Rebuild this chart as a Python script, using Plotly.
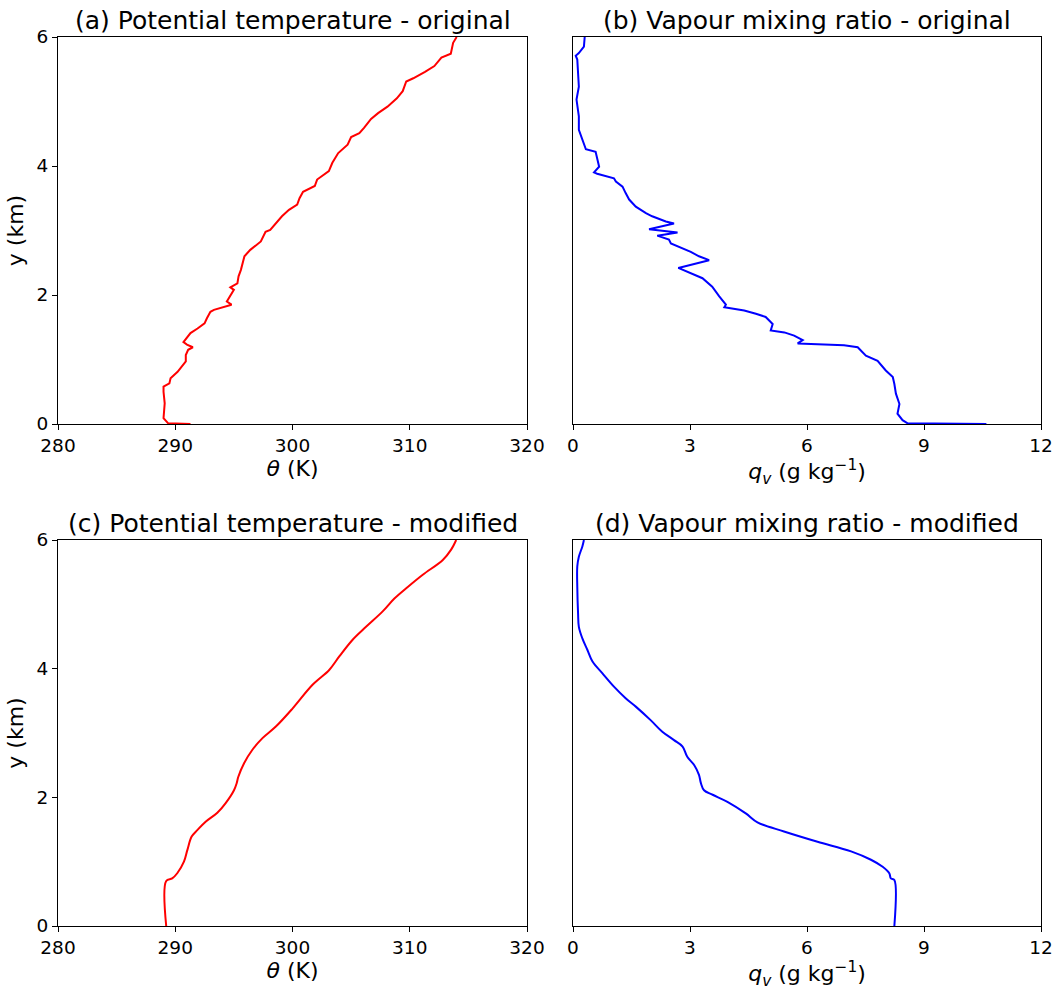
import plotly.graph_objects as go

# (a) potential temperature - original
z_a = [0.0, 0.01, 0.09, 0.32, 0.50, 0.58, 0.63, 0.71, 0.81, 0.97, 1.07, 1.15, 1.19, 1.23, 1.27,
       1.41, 1.48, 1.56, 1.64, 1.74, 1.77, 1.85, 1.90, 1.98, 2.08, 2.12, 2.18, 2.29, 2.39, 2.60,
       2.70, 2.83, 2.98, 3.01, 3.11, 3.22, 3.32, 3.40, 3.50, 3.60, 3.69, 3.79, 3.92, 4.05, 4.20,
       4.33, 4.45, 4.51, 4.59, 4.73, 4.82, 4.92, 5.05, 5.16, 5.31, 5.36, 5.46, 5.55, 5.68, 5.74,
       5.91, 6.0]
theta_a = [291.3, 289.4, 289.0, 289.1, 289.0, 289.0, 289.5, 289.6, 290.2, 290.9, 290.9, 291.1,
           291.5, 291.0, 290.7, 291.3, 291.9, 292.5, 292.7, 293.0, 293.3, 294.8, 294.4, 294.7,
           295.0, 294.7, 295.3, 295.4, 295.6, 295.9, 296.4, 297.3, 297.7, 298.1, 298.6, 299.1,
           299.7, 300.4, 300.6, 300.9, 301.9, 302.1, 303.1, 303.4, 303.9, 304.7, 305.0, 305.7,
           306.1, 306.7, 307.3, 308.1, 308.9, 309.4, 309.7, 310.3, 311.3, 312.1, 312.7, 313.5,
           313.7, 314.0]

# (b) vapour mixing ratio - original
z_b = [0.0, 0.01, 0.06, 0.16, 0.31, 0.47, 0.62, 0.73, 0.83, 0.98, 1.06, 1.19, 1.22, 1.25, 1.30,
       1.37, 1.42, 1.45, 1.55, 1.66, 1.71, 1.76, 1.81, 1.85, 1.98, 2.13, 2.26, 2.34, 2.42, 2.54,
       2.60, 2.67, 2.73, 2.80, 2.86, 2.92, 2.97, 3.02, 3.11, 3.14, 3.22, 3.27, 3.37, 3.48, 3.58,
       3.68, 3.76, 3.81, 3.88, 3.90, 3.99, 4.12, 4.22, 4.26, 4.40, 4.56, 4.77, 5.03, 5.23, 5.44,
       5.65, 5.71, 5.75, 5.85, 6.0]
qv_b = [10.6, 8.58, 8.45, 8.32, 8.37, 8.28, 8.24, 8.20, 8.02, 7.81, 7.51, 7.30, 6.95, 5.76, 5.89,
        5.67, 5.42, 5.07, 5.12, 4.94, 4.69, 4.39, 3.88, 3.92, 3.75, 3.57, 3.32, 3.02, 2.70, 3.49,
        3.23, 3.02, 2.76, 2.51, 2.46, 2.16, 2.68, 1.95, 2.59, 2.38, 2.03, 1.87, 1.61, 1.44, 1.35,
        1.27, 1.10, 1.05, 0.62, 0.54, 0.67, 0.62, 0.58, 0.33, 0.24, 0.15, 0.15, 0.09, 0.15, 0.13,
        0.11, 0.07, 0.15, 0.28, 0.30]

# (c) potential temperature - modified
z_c = [0.0, 0.70, 0.74, 0.82, 1.00, 1.18, 1.39, 1.49, 1.62, 1.76, 1.91, 2.11, 2.22, 2.32, 2.53,
       2.74, 2.92, 3.10, 3.38, 3.75, 3.98, 4.19, 4.45, 4.65, 4.89, 5.09, 5.27, 5.46, 5.69, 5.85, 6.0]
theta_c = [289.23, 289.23, 289.74, 290.17, 290.74, 291.03, 291.40, 291.88, 292.59, 293.59, 294.30,
           295.01, 295.24, 295.38, 295.87, 296.58, 297.44, 298.58, 300.00, 301.71, 303.13, 303.99,
           305.13, 306.27, 307.69, 308.69, 309.83, 311.11, 312.82, 313.53, 313.96]

# (d) vapour mixing ratio - modified
z_d = [0.0, 0.715, 0.74, 0.82, 0.92, 1.03, 1.16, 1.31, 1.47, 1.61, 1.75, 1.93, 2.04, 2.11, 2.22,
       2.35, 2.50, 2.63, 2.79, 2.89, 3.02, 3.20, 3.41, 3.54, 3.72, 3.93, 4.11, 4.29, 4.47, 4.65,
       4.86, 5.27, 5.59, 5.74, 5.90, 6.0]
qv_d = [8.24, 8.24, 8.15, 8.11, 7.94, 7.64, 7.13, 6.27, 5.41, 4.73, 4.43, 3.96, 3.58, 3.36, 3.28,
        3.23, 3.11, 2.93, 2.81, 2.59, 2.29, 1.99, 1.61, 1.35, 1.05, 0.75, 0.50, 0.37, 0.24, 0.15,
        0.13, 0.11, 0.11, 0.15, 0.24, 0.28]

titles = ["(a) Potential temperature - original", "(b) Vapour mixing ratio - original",
          "(c) Potential temperature - modified", "(d) Vapour mixing ratio - modified"]
theta_ticks = [280, 290, 300, 310, 320]
qv_ticks = [0, 3, 6, 9, 12]
y_ticks = [0, 2, 4, 6]

FONT = "DejaVu Sans"
fig = go.Figure()

fig.add_trace(go.Scatter(x=theta_a, y=z_a, mode="lines", line=dict(color="red", width=2),
                         xaxis="x", yaxis="y", showlegend=False))
fig.add_trace(go.Scatter(x=qv_b, y=z_b, mode="lines", line=dict(color="blue", width=2),
                         xaxis="x2", yaxis="y2", showlegend=False))
fig.add_trace(go.Scatter(x=theta_c, y=z_c, mode="lines", line=dict(color="red", width=2),
                         line_shape="spline", xaxis="x3", yaxis="y3", showlegend=False))
fig.add_trace(go.Scatter(x=qv_d, y=z_d, mode="lines", line=dict(color="blue", width=2),
                         line_shape="spline", xaxis="x4", yaxis="y4", showlegend=False))

W, H = 1061, 992
ml, mr, mt, mb = 58, 20, 37, 66
pw = W - ml - mr
ph = H - mt - mb
left_dom = [0, (527 - ml) / pw]
right_dom = [(573 - ml) / pw, 1]
top_dom = [(H - mb - 424) / ph, 1]
bot_dom = [0, (H - mb - 540) / ph]

common_ax = dict(showline=True, linecolor="black", linewidth=1, mirror=True, showgrid=False,
                 zeroline=False, ticks="outside", ticklen=5, tickcolor="black", automargin=False,
                 tickfont=dict(family=FONT, size=18.5, color="black"))

theta_title = dict(text="<i>θ</i> (K)", font=dict(family=FONT, size=22, color="black"), standoff=2)
qv_title = dict(text="<i>q</i><sub><i>v</i></sub> (g kg<sup>−1</sup>)",
                font=dict(family=FONT, size=22, color="black"), standoff=2)
y_title = dict(text="y (km)", font=dict(family=FONT, size=22, color="black"), standoff=6)

layout = dict(
    width=W, height=H, margin=dict(l=ml, r=mr, t=mt, b=mb, autoexpand=False),
    paper_bgcolor="white", plot_bgcolor="white",
    xaxis=dict(domain=left_dom, anchor="y", range=[280, 320], tickvals=theta_ticks,
               title=theta_title, **common_ax),
    yaxis=dict(domain=top_dom, anchor="x", range=[0, 6], tickvals=y_ticks,
               title=y_title, **common_ax),
    xaxis2=dict(domain=right_dom, anchor="y2", range=[0, 12], tickvals=qv_ticks,
                title=qv_title, **common_ax),
    yaxis2=dict(domain=top_dom, anchor="x2", range=[0, 6], tickvals=y_ticks,
                showticklabels=False, **{**common_ax, "ticks": ""}),
    xaxis3=dict(domain=left_dom, anchor="y3", range=[280, 320], tickvals=theta_ticks,
                title=theta_title, **common_ax),
    yaxis3=dict(domain=bot_dom, anchor="x3", range=[0, 6], tickvals=y_ticks,
                title=y_title, **common_ax),
    xaxis4=dict(domain=right_dom, anchor="y4", range=[0, 12], tickvals=qv_ticks,
                title=qv_title, **common_ax),
    yaxis4=dict(domain=bot_dom, anchor="x4", range=[0, 6], tickvals=y_ticks,
                showticklabels=False, **{**common_ax, "ticks": ""}),
)
fig.update_layout(**layout)

doms = [(left_dom, top_dom), (right_dom, top_dom), (left_dom, bot_dom), (right_dom, bot_dom)]
for t, (xd, yd) in zip(titles, doms):
    fig.add_annotation(text=t, xref="paper", yref="paper", x=(xd[0] + xd[1]) / 2, y=yd[1],
                       xanchor="center", yanchor="bottom", yshift=0, showarrow=False,
                       font=dict(family=FONT, size=25, color="black"))

fig.write_html("out.html")
